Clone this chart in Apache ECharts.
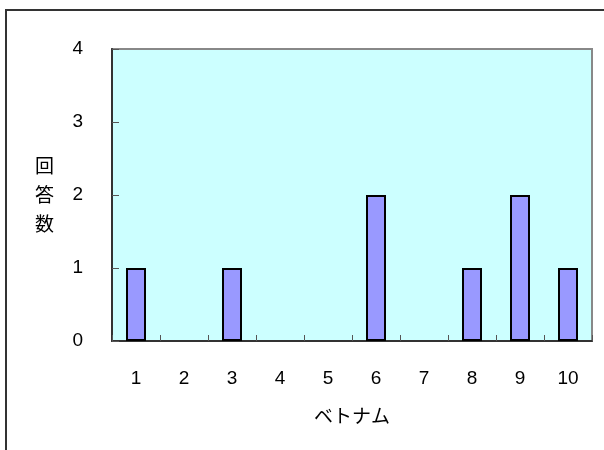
<!DOCTYPE html>
<html><head><meta charset="utf-8">
<script src="https://cdn.jsdelivr.net/npm/echarts@6/dist/echarts.min.js"></script>
<style>html,body{margin:0;padding:0;background:#fff}#c{width:604px;height:450px}</style>
</head><body><div id="c"></div>
<script>
const categories = ['1','2','3','4','5','6','7','8','9','10'];
const values = [1,0,1,0,0,2,0,1,2,1];
const xName = 'ベトナム';
const yName = '回答数';

const font = '"Liberation Sans", "Noto Sans CJK JP", sans-serif';
const cjk = '"Noto Sans CJK JP", sans-serif';
const chart = echarts.init(document.getElementById('c'), null, {renderer:'canvas'});
chart.setOption({
  animation:false,
  backgroundColor:'#fff',
  textStyle:{fontFamily:font},
  graphic:[{type:'rect',shape:{x:6,y:10,width:700,height:500},style:{fill:'none',stroke:'#333',lineWidth:2},silent:true,z:100}],
  grid:{left:112,top:49,width:480,height:292,show:true,backgroundColor:'#CCFFFF',borderColor:'#888',borderWidth:2},
  xAxis:{type:'category',data:categories,
    name:xName,nameLocation:'middle',nameGap:65,
    nameTextStyle:{fontSize:19,color:'#000',fontFamily:cjk,verticalAlign:'top',lineHeight:20},
    axisLine:{lineStyle:{color:'#333',width:2}},
    axisTick:{show:true,inside:true,length:6,alignWithLabel:false,lineStyle:{color:'#555'}},
    axisLabel:{fontSize:19,color:'#000',margin:28}},
  yAxis:{type:'value',min:0,max:4,interval:1,
    name:yName.split('').join('\n'),nameLocation:'middle',nameRotate:0,nameGap:58,
    nameTextStyle:{fontSize:19,color:'#000',lineHeight:29,fontFamily:cjk},
    axisLine:{show:true,lineStyle:{color:'#333',width:2}},
    axisTick:{show:true,inside:true,length:7,lineStyle:{color:'#555'}},
    splitLine:{show:false},
    axisLabel:{fontSize:19,color:'#000',margin:29}},
  series:[{type:'bar',barWidth:20,
    data:values.map(v => v === 0 ? {value:v,itemStyle:{borderWidth:0,color:'transparent'}} : v),
    itemStyle:{color:'#9999FF',borderColor:'#000',borderWidth:2}}]
});
</script></body></html>
